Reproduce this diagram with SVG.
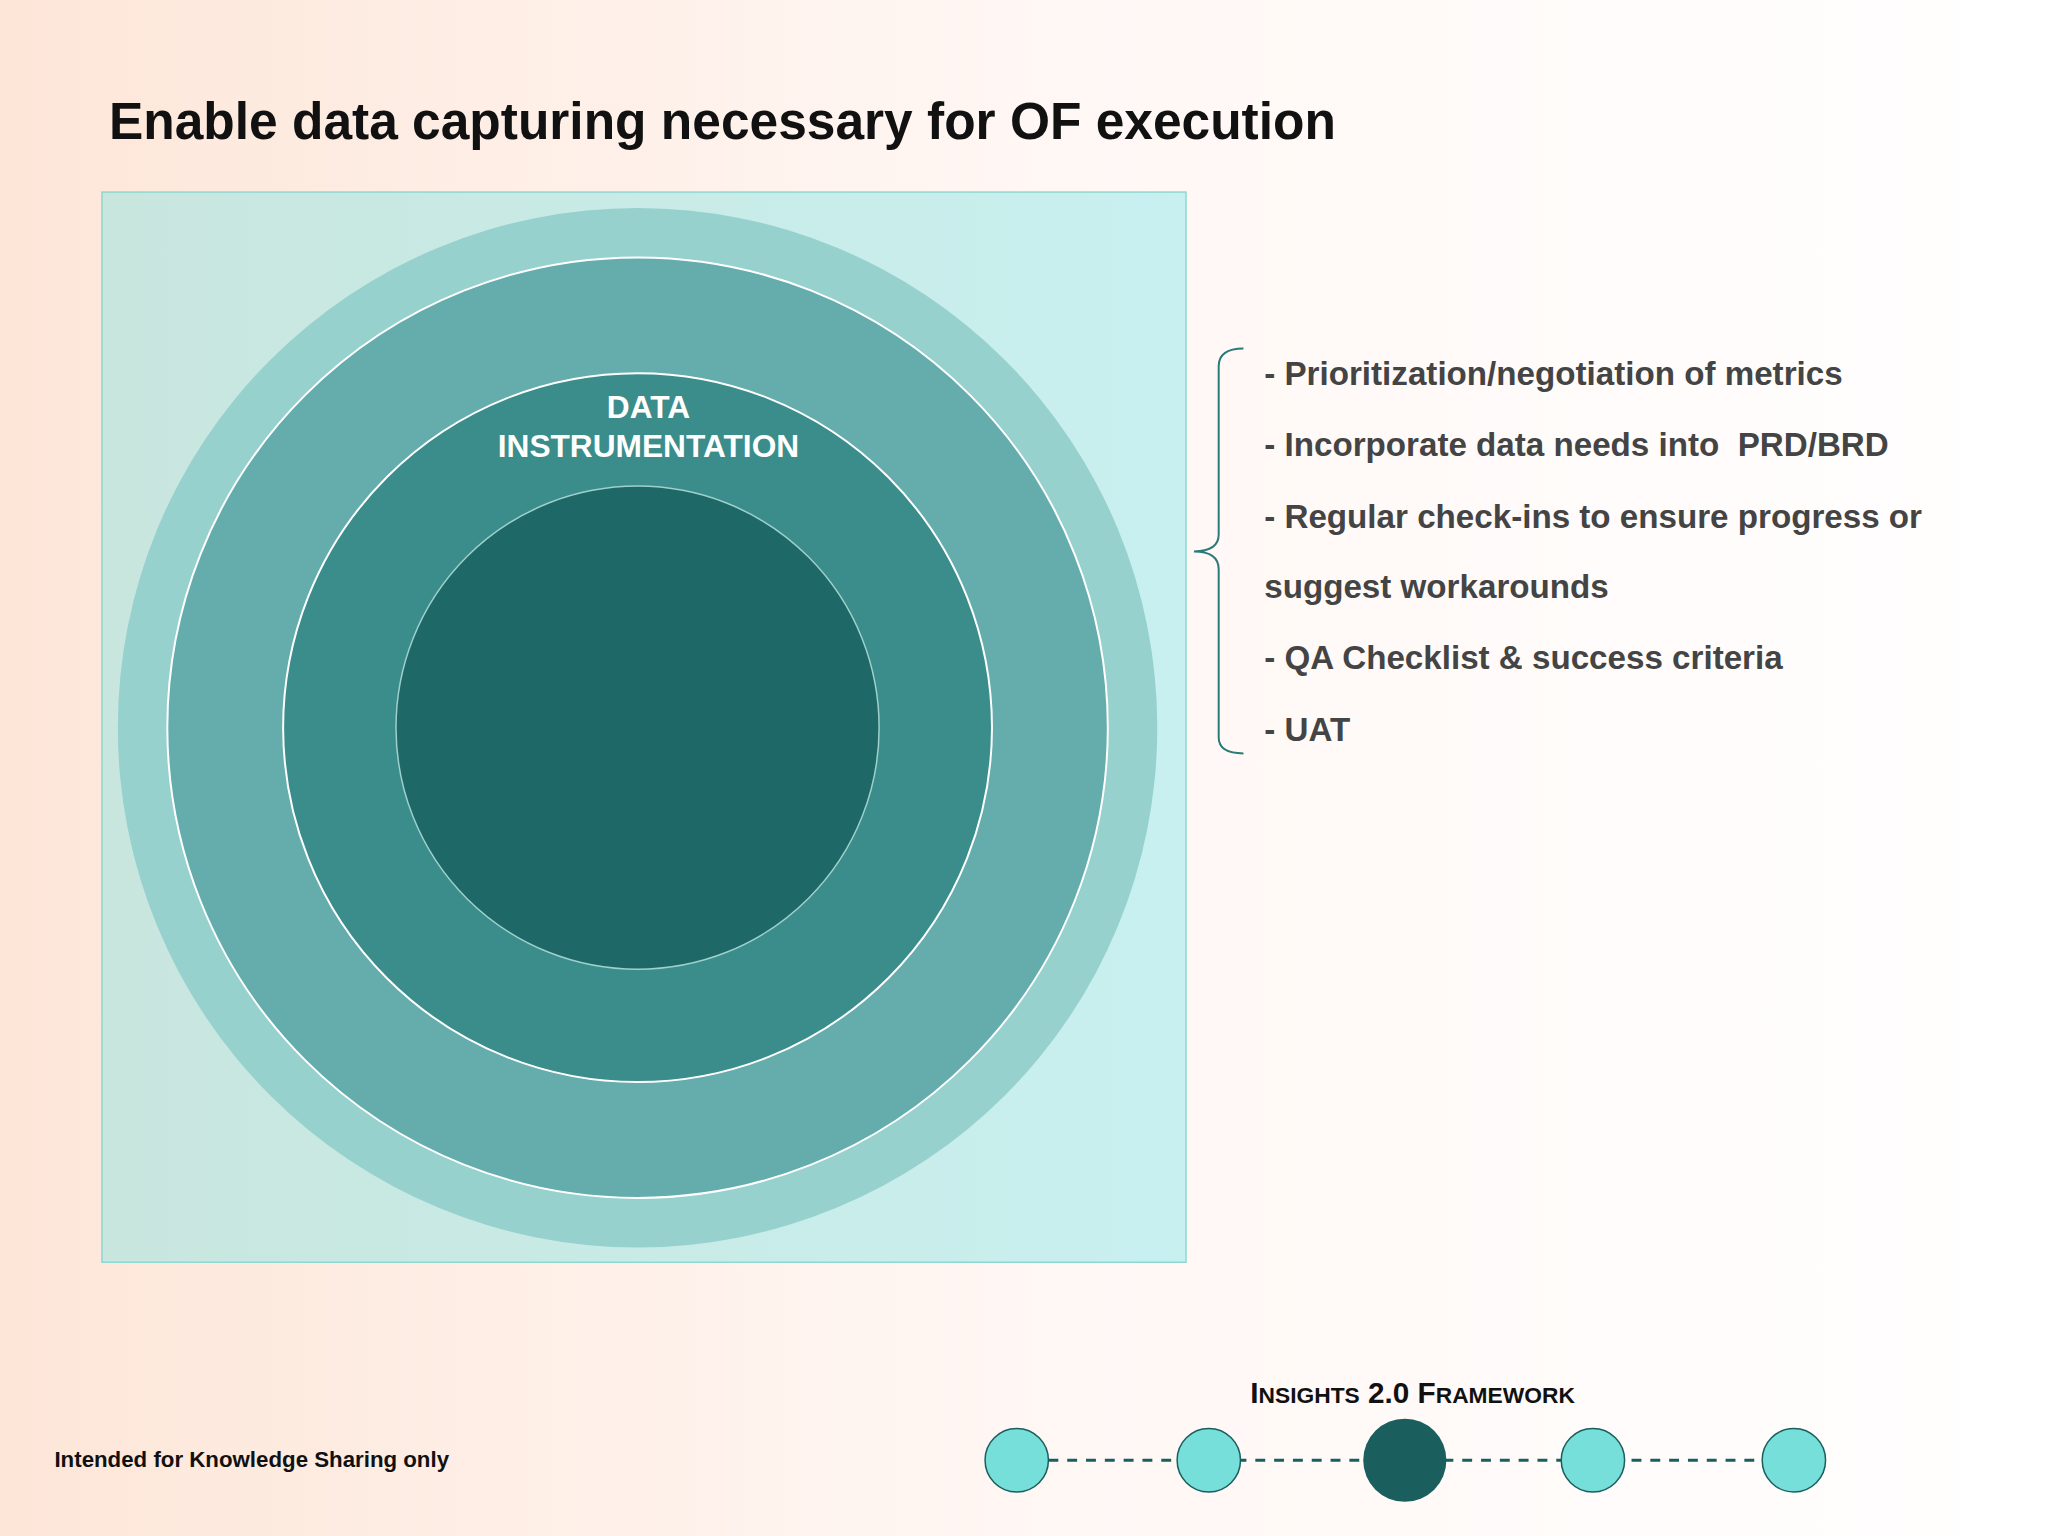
<svg xmlns="http://www.w3.org/2000/svg" width="2048" height="1536" viewBox="0 0 2048 1536">
<defs>
<linearGradient id="bg" x1="0" y1="0" x2="1" y2="0"><stop offset="0" stop-color="#fde6d8"/><stop offset="0.5" stop-color="#fff7f4"/><stop offset="1" stop-color="#ffffff"/></linearGradient>
<linearGradient id="box" x1="0" y1="0" x2="1" y2="0"><stop offset="0" stop-color="#c8e6de"/><stop offset="1" stop-color="#c8f0f0"/></linearGradient>
<style>
.b{font-family:"Liberation Sans",Arial,sans-serif;font-weight:bold}
.it{font-size:33.5px;fill:#444;white-space:pre}
.s{fill:#76dfda;stroke:#1a5e5e;stroke-width:1.5}
</style>
</defs>
<rect width="2048" height="1536" fill="url(#bg)"/>
<g transform="scale(0.99)">
<text class="b" x="110" y="140" font-size="52" fill="#111">Enable data capturing necessary for OF execution</text>
<g id="diagram">
<rect x="103" y="194" width="1095" height="1081" fill="url(#box)" stroke="#8dd8d0" stroke-width="1.5"/>
<circle cx="644" cy="735" r="525" fill="#96d1ce"/>
<circle cx="644" cy="735" r="475" fill="#65adad" stroke="#fff" stroke-width="2"/>
<circle cx="644" cy="735" r="358" fill="#3a8d8b" stroke="#fff" stroke-width="2"/>
<circle cx="644" cy="735" r="244" fill="#1e6868" stroke="#9fd0cc" stroke-width="1.5"/>
<text class="b" x="655" y="422" font-size="32" fill="#fff" text-anchor="middle">DATA</text>
<text class="b" x="655" y="462" font-size="32" fill="#fff" text-anchor="middle">INSTRUMENTATION</text>
</g>
<g id="connectors">
<path d="M1256,352 Q1231,352 1231,370 L1231,540 Q1231,557 1206,557 Q1231,557 1231,575 L1231,745 Q1231,761 1256,761" fill="none" stroke="#2a7a76" stroke-width="2"/>
<line x1="1059" y1="1475" x2="1780" y2="1475" stroke="#1a5e5e" stroke-width="3" stroke-dasharray="10,9"/>
</g>
<g id="list" class="b it">
<text x="1277" y="389">- Prioritization/negotiation of metrics</text>
<text x="1277" y="461" xml:space="preserve">- Incorporate data needs into  PRD/BRD</text>
<text x="1277" y="533">- Regular check-ins to ensure progress or</text>
<text x="1277" y="604">suggest workarounds</text>
<text x="1277" y="676">- QA Checklist &amp; success criteria</text>
<text x="1277" y="748">- UAT</text>
</g>
<text class="b" x="55" y="1482" font-size="22.5" fill="#111">Intended for Knowledge Sharing only</text>
<text class="b" x="1263" y="1417" font-size="30" fill="#111"><tspan>I</tspan><tspan font-size="23">NSIGHTS</tspan> 2.0 F<tspan font-size="23">RAMEWORK</tspan></text>
<g id="steps">
<circle class="s" cx="1027" cy="1475" r="32"/>
<circle class="s" cx="1221" cy="1475" r="32"/>
<circle cx="1419" cy="1475" r="42" fill="#1a5e5e"/>
<circle class="s" cx="1609" cy="1475" r="32"/>
<circle class="s" cx="1812" cy="1475" r="32"/>
</g>
</g>
</svg>
